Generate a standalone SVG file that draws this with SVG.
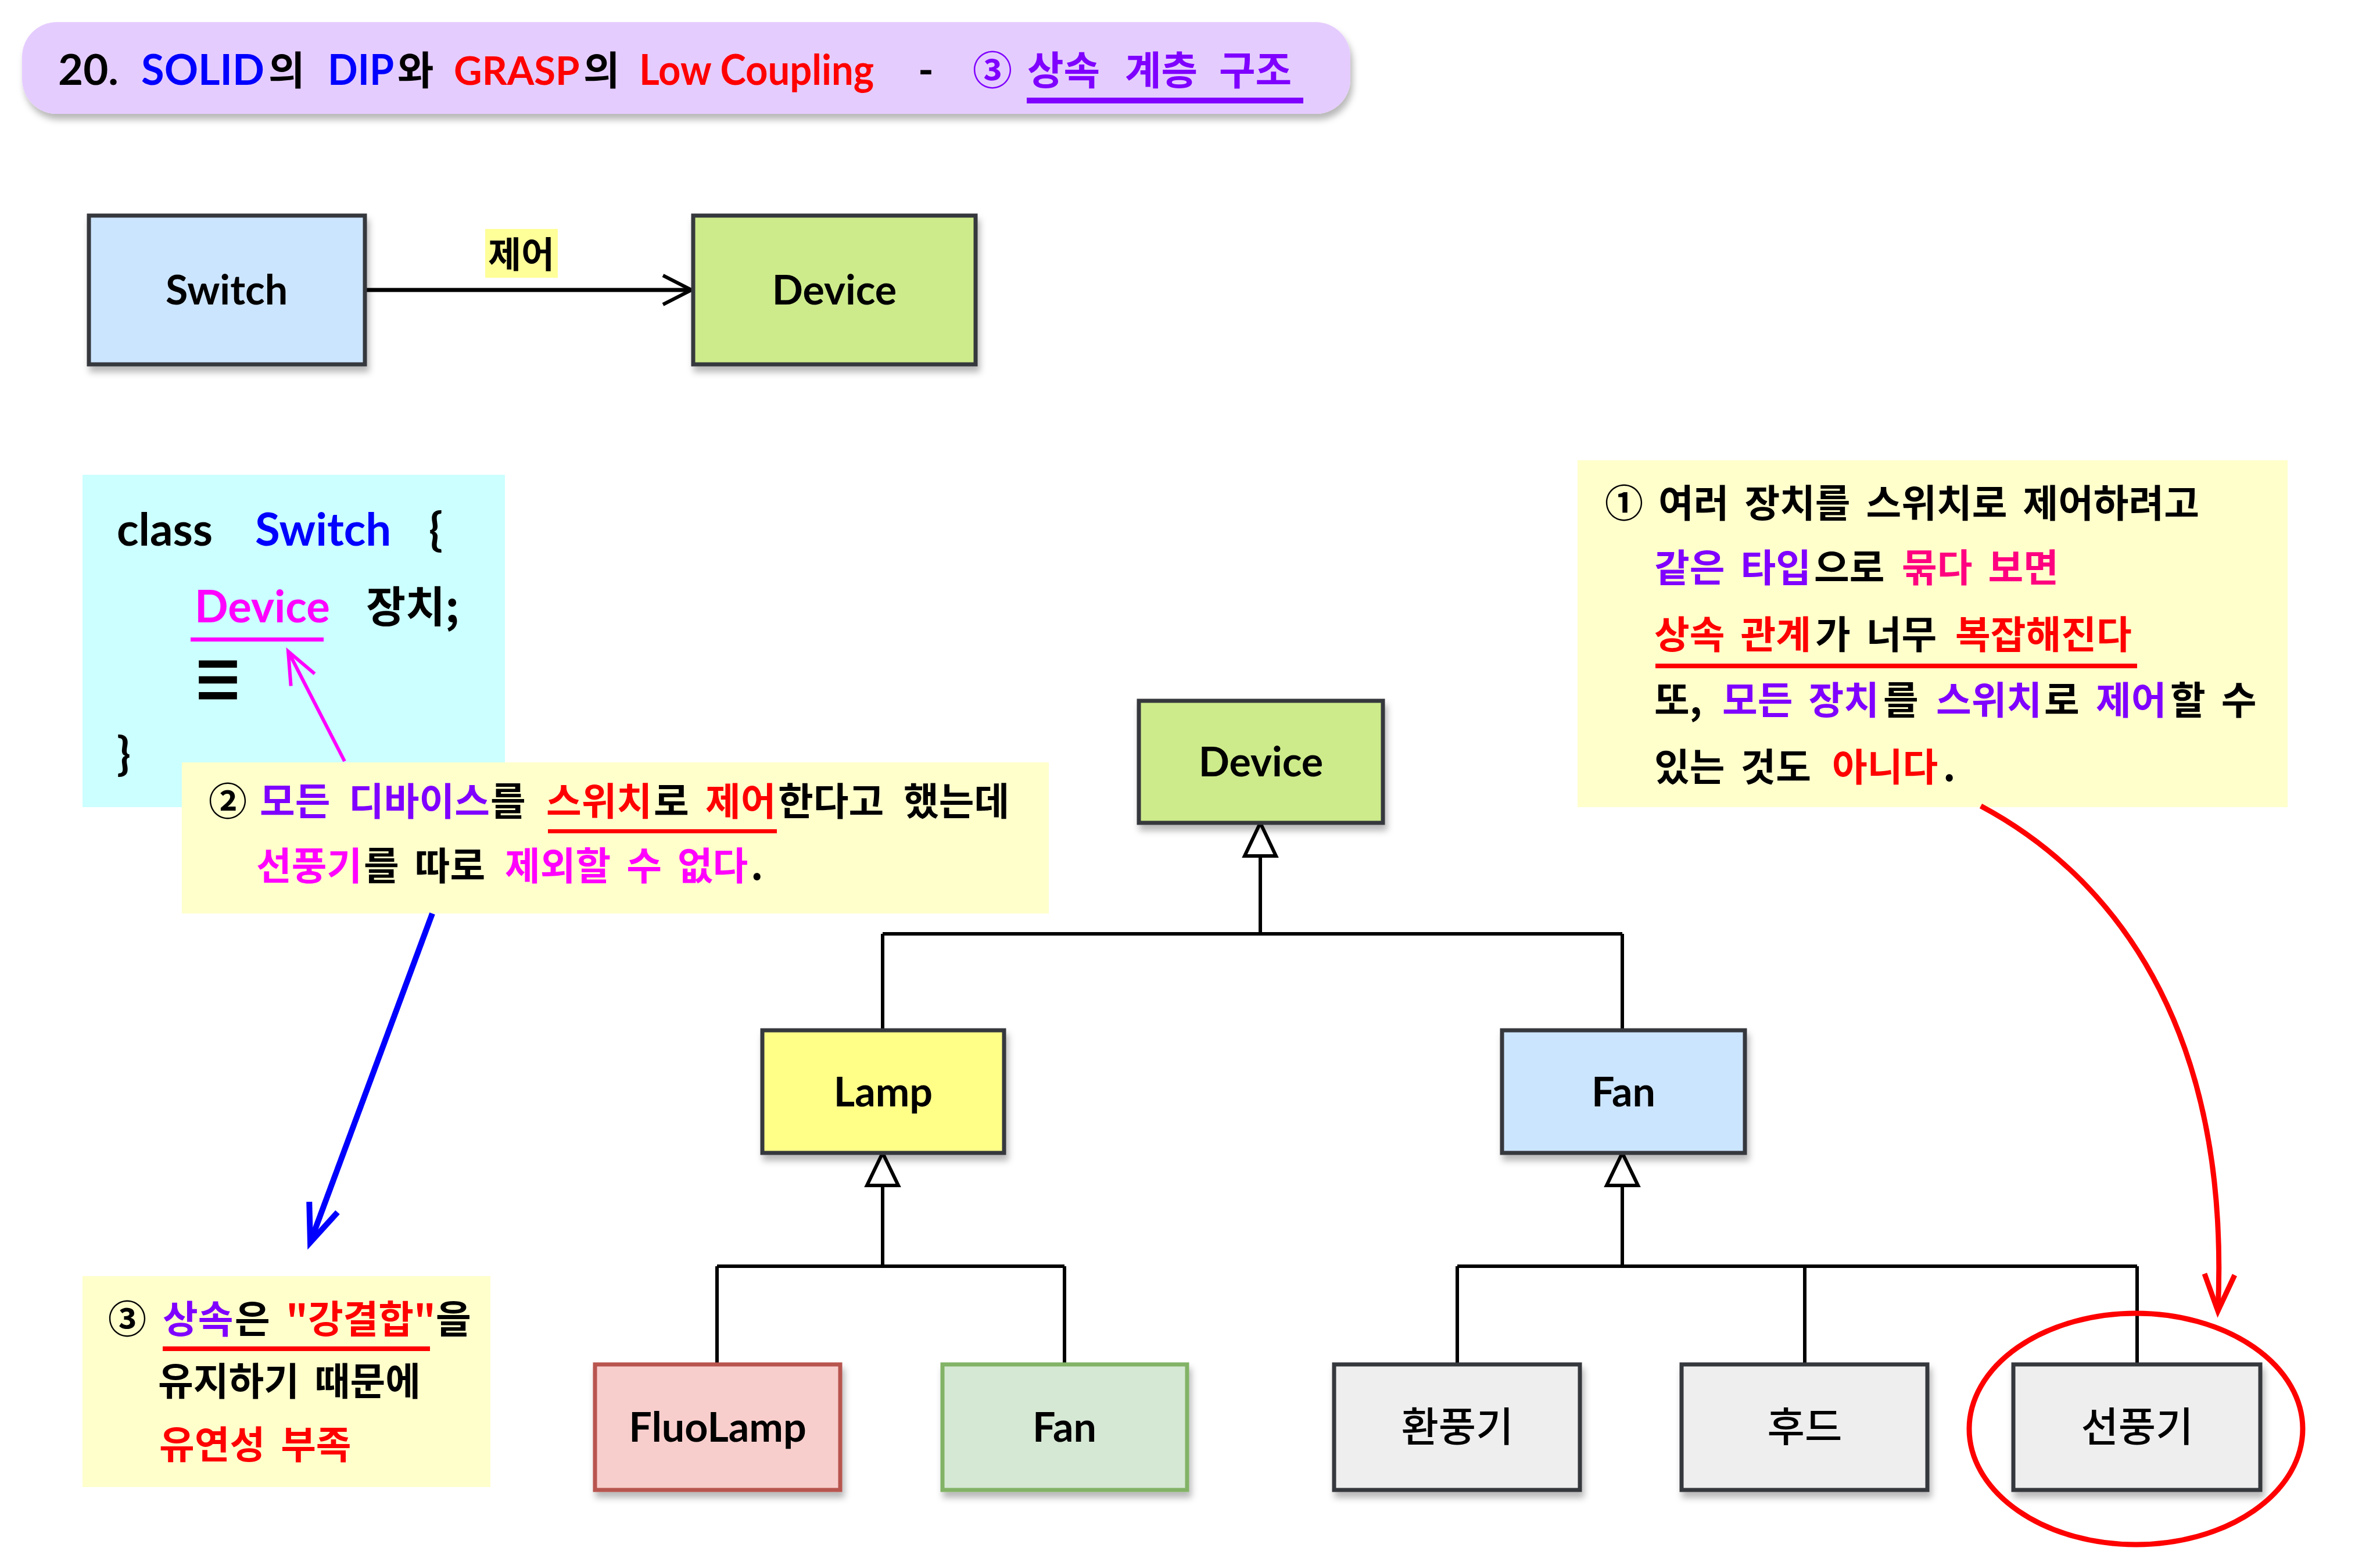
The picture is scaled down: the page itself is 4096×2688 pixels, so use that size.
<svg xmlns="http://www.w3.org/2000/svg" width="4096" height="2688" viewBox="0 0 4096 2688">
<defs>
<style>
.lat{font-family:Lato,"Noto Sans CJK KR",sans-serif;font-weight:bold}
.kr{font-family:"Noto Sans CJK KR",sans-serif;font-weight:bold}
.note{font-family:"Noto Sans CJK KR",sans-serif;font-weight:bold;font-size:66px;word-spacing:12px}
.box{stroke:#36393D;stroke-width:7}
.lbl{font-family:Lato,"Noto Sans CJK KR",sans-serif;font-weight:bold;font-size:70px;text-anchor:middle}
.klbl{font-family:"Noto Sans CJK KR",sans-serif;font-weight:500;font-size:70px;text-anchor:middle}
.conn{fill:none;stroke:#000;stroke-width:6}
.pu{fill:#7F00FF}.rd{fill:#FF0000}.mg{fill:#FF00FF}.pk{fill:#FF0080}.bl{fill:#0000FF}.bk{fill:#000}
</style>
<filter id="sh" x="-20%" y="-20%" width="140%" height="150%">
<feDropShadow dx="4" dy="10" stdDeviation="6" flood-color="#000" flood-opacity="0.28"/>
</filter>
<marker id="mBlack" markerUnits="userSpaceOnUse" markerWidth="120" markerHeight="120" orient="auto" overflow="visible" refX="0" refY="0">
<path d="M-49,-25 L0,0 L-49,25" fill="none" stroke="#000" stroke-width="6"/>
</marker>
<marker id="mMag" markerUnits="userSpaceOnUse" markerWidth="120" markerHeight="120" orient="auto" overflow="visible" refX="0" refY="0">
<path d="M-55,-23 L0,0 L-55,23" fill="none" stroke="#FF00FF" stroke-width="6"/>
</marker>
<marker id="mBlue" markerUnits="userSpaceOnUse" markerWidth="120" markerHeight="120" orient="auto" overflow="visible" refX="0" refY="0">
<path d="M-65,-26 L0,0 L-65,26" fill="none" stroke="#0000FF" stroke-width="10"/>
</marker>
<marker id="mRed" markerUnits="userSpaceOnUse" markerWidth="120" markerHeight="120" orient="auto" overflow="visible" refX="0" refY="0">
<path d="M-63,-26 L0,0 L-63,26" fill="none" stroke="#FF0000" stroke-width="9"/>
</marker>
</defs>
<rect width="4096" height="2688" fill="#FFFFFF"/>

<g id="title">
<rect x="38" y="38" width="2286" height="158" rx="60" fill="#E5CCFF" filter="url(#sh)"/>
<text y="146" font-size="72"><tspan class="lat bk" x="100" textLength="104" lengthAdjust="spacingAndGlyphs">20.</tspan><tspan class="lat bl" x="243" textLength="212" lengthAdjust="spacingAndGlyphs">SOLID</tspan><tspan class="kr bk" x="462" font-size="68">의</tspan><tspan class="lat bl" x="564" textLength="114" lengthAdjust="spacingAndGlyphs">DIP</tspan><tspan class="kr bk" x="684" font-size="68">와</tspan><tspan class="lat rd" x="781" font-size="67">GRASP</tspan><tspan class="kr bk" x="1004" font-size="68">의</tspan><tspan class="lat rd" x="1100" textLength="404" lengthAdjust="spacingAndGlyphs">Low Coupling</tspan><tspan class="lat bk" x="1580">-</tspan><tspan class="kr pu" x="1674" font-size="68">③</tspan><tspan class="kr pu" x="1768" font-size="68">상속</tspan><tspan class="kr pu" x="1936" font-size="68">계층</tspan><tspan class="kr pu" x="2098" font-size="68">구조</tspan></text>
<rect x="1767" y="168" width="476" height="10" fill="#7F00FF"/>
</g>

<g id="connectors">
<line x1="628" y1="499" x2="1190" y2="499" stroke="#000" stroke-width="7" marker-end="url(#mBlack)"/>
<path class="conn" d="M2169,1473 V1607 M1519,1607 H2792 M1519,1607 V1773 M2792,1607 V1773"/>
<path class="conn" d="M1519,2040 V2179 M1234,2179 H1832 M1234,2179 V2348 M1832,2179 V2348"/>
<path class="conn" d="M2792,2040 V2179 M2508,2179 H3678 M2508,2179 V2348 M3106,2179 V2348 M3678,2179 V2348"/>
<polygon points="2169,1416 2142,1473 2196,1473" fill="#FFF" stroke="#000" stroke-width="6"/>
<polygon points="1519,1984 1492,2040 1546,2040" fill="#FFF" stroke="#000" stroke-width="6"/>
<polygon points="2792,1984 2765,2040 2819,2040" fill="#FFF" stroke="#000" stroke-width="6"/>
</g>

<g id="label-jeeo">
<rect x="835" y="394" width="125" height="84" fill="#FFFF99"/>
<text class="kr" x="897" y="461" font-size="62" text-anchor="middle" font-weight="500">제어</text>
</g>

<g id="node-switch">
<rect class="box" x="153" y="371" width="475" height="256" fill="#CCE5FF" filter="url(#sh)"/>
<text class="lbl" x="390" y="524">Switch</text>
</g>
<g id="node-device-top">
<rect class="box" x="1193" y="371" width="486" height="256" fill="#CDEB8B" filter="url(#sh)"/>
<text class="lbl" x="1436" y="524">Device</text>
</g>

<g id="code-box">
<rect x="142" y="817" width="727" height="572" fill="#CCFFFF"/>
<text y="939" font-size="78" class="lat"><tspan class="bk" x="201">class</tspan><tspan class="bl" x="439">Switch</tspan><tspan class="bk" x="738">{</tspan></text>
<text y="1071" font-size="76"><tspan class="lat mg" x="335">Device</tspan><tspan class="kr bk" x="630" font-size="74">장치;</tspan></text>
<rect x="328" y="1097" width="229" height="7" fill="#FF00FF"/>
<text transform="translate(331,1217) scale(0.7,1)" font-family="DejaVu Sans" font-size="150" fill="#000">≡</text>
<text class="lat bk" x="201" y="1325" font-size="78">}</text>
</g>

<g id="note2">
<rect x="313" y="1312" width="1492" height="260" fill="#FFFFCC"/>
<text class="note" y="1403"><tspan class="bk" x="359">②</tspan><tspan class="pu" x="447">모든</tspan><tspan class="pu" x="600">디바이스</tspan><tspan class="bk" x="844">를</tspan><tspan class="rd" x="940">스위치</tspan><tspan class="bk" x="1125">로</tspan><tspan class="rd" x="1214">제어</tspan><tspan class="bk" x="1339">한다고</tspan><tspan class="bk" x="1555">했는데</tspan></text>
<rect x="943" y="1427" width="394" height="7" fill="#FF0000"/>
<text class="note" y="1514"><tspan class="mg" x="441">선풍기</tspan><tspan class="bk" x="626">를 따로</tspan><tspan class="mg" x="869">제외할 수 없다</tspan><tspan class="bk" x="1292">.</tspan></text>
</g>

<g id="note1">
<rect x="2715" y="792" width="1222" height="597" fill="#FFFFCC"/>
<text class="note" y="890"><tspan class="bk" x="2762">①</tspan><tspan class="bk" x="2854">여러 장치를 스위치로 제어하려고</tspan></text>
<text class="note" y="1001"><tspan class="pu" x="2847">같은 타입</tspan><tspan class="bk" x="3122">으로</tspan><tspan class="pk" x="3273">묶다 보면</tspan></text>
<text class="note" y="1116"><tspan class="rd" x="2847">상속 관계</tspan><tspan class="bk" x="3124">가 너무</tspan><tspan class="rd" x="3365">복잡해진다</tspan></text>
<rect x="2849" y="1142" width="829" height="8" fill="#FF0000"/>
<text class="note" y="1229"><tspan class="bk" x="2847">또,</tspan><tspan class="pu" x="2964">모든 장치</tspan><tspan class="bk" x="3241">를</tspan><tspan class="pu" x="3332">스위치</tspan><tspan class="bk" x="3518">로</tspan><tspan class="pu" x="3607">제어</tspan><tspan class="bk" x="3735">할 수</tspan></text>
<text class="note" y="1344"><tspan class="bk" x="2847">있는 것도</tspan><tspan class="rd" x="3153">아니다</tspan><tspan class="bk" x="3344">.</tspan></text>
</g>

<g id="note3">
<rect x="142" y="2196" width="702" height="363" fill="#FFFFCC"/>
<text class="note" y="2294"><tspan class="bk" x="186">③</tspan><tspan class="pu" x="280">상속</tspan><tspan class="bk" x="404">은</tspan><tspan class="rd" x="492">"강결합"</tspan><tspan class="bk" x="750">을</tspan></text>
<rect x="280" y="2317" width="460" height="8" fill="#FF0000"/>
<text class="note bk" x="272" y="2401">유지하기 때문에</text>
<text class="note rd" x="274" y="2510">유연성 부족</text>
</g>

<g id="node-device">
<rect class="box" x="1960" y="1206" width="420" height="210" fill="#CDEB8B" filter="url(#sh)"/>
<text class="lbl" x="2170" y="1336">Device</text>
</g>
<g id="node-lamp">
<rect class="box" x="1312" y="1773" width="416" height="211" fill="#FFFF88" filter="url(#sh)"/>
<text class="lbl" x="1520" y="1904">Lamp</text>
</g>
<g id="node-fan">
<rect class="box" x="2585" y="1773" width="418" height="211" fill="#CCE5FF" filter="url(#sh)"/>
<text class="lbl" x="2794" y="1904">Fan</text>
</g>
<g id="node-fluolamp">
<rect x="1024" y="2348" width="422" height="216" fill="#F8CECC" stroke="#B85450" stroke-width="7" filter="url(#sh)"/>
<text class="lbl" x="1235" y="2481">FluoLamp</text>
</g>
<g id="node-fan2">
<rect x="1622" y="2348" width="421" height="216" fill="#D5E8D4" stroke="#82B366" stroke-width="7" filter="url(#sh)"/>
<text class="lbl" x="1832" y="2481">Fan</text>
</g>
<g id="node-hwanpunggi">
<rect class="box" x="2296" y="2348" width="423" height="216" fill="#EEEEEE" filter="url(#sh)"/>
<text class="klbl" x="2508" y="2481">환풍기</text>
</g>
<g id="node-hood">
<rect class="box" x="2894" y="2348" width="423" height="216" fill="#EEEEEE" filter="url(#sh)"/>
<text class="klbl" x="3106" y="2481">후드</text>
</g>
<g id="node-seonpunggi">
<rect class="box" x="3465" y="2348" width="425" height="216" fill="#EEEEEE" filter="url(#sh)"/>
<text class="klbl" x="3678" y="2481">선풍기</text>
</g>

<g id="annotations">
<line x1="593" y1="1310" x2="496" y2="1121" stroke="#FF00FF" stroke-width="6" marker-end="url(#mMag)"/>
<line x1="744" y1="1572" x2="534" y2="2138" stroke="#0000FF" stroke-width="10" marker-end="url(#mBlue)"/>
<path d="M3409,1387 C3630,1505 3840,1760 3817,2256" fill="none" stroke="#FF0000" stroke-width="9" marker-end="url(#mRed)"/>
<ellipse cx="3676" cy="2459" rx="287" ry="199" fill="none" stroke="#FF0000" stroke-width="9"/>
</g>
</svg>
